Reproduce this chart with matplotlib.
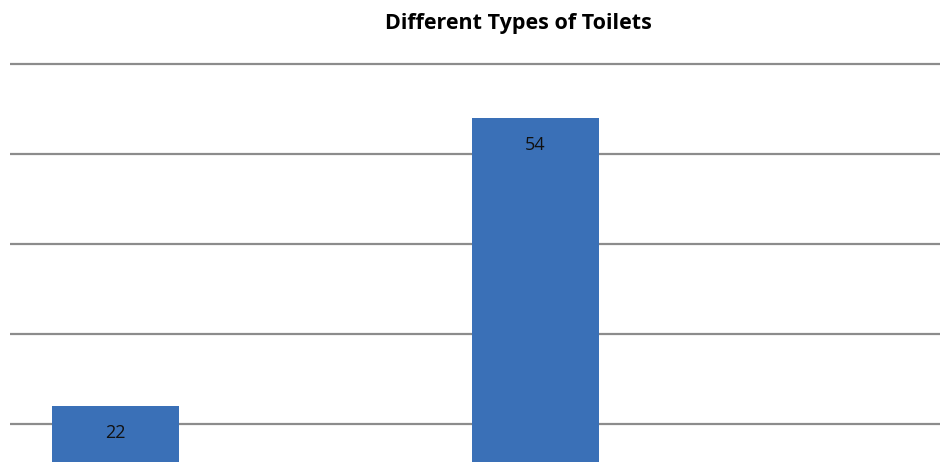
import matplotlib
matplotlib.use("Agg")
import matplotlib.pyplot as plt

# data (category names are not shown in the crop)
categories = ["Type A", "Type B"]
counts = [22, 54]
grid_values = [20, 30, 40, 50, 60]

bar_color = "#3A70B7"
grid_color = "#8C8C8C"

fig = plt.figure(figsize=(9.4, 4.62), dpi=100)
ax = fig.add_axes([10 / 940, 0, 930 / 940, 1])

x = list(range(len(categories)))
bars = ax.bar(x, counts, width=0.302, color=bar_color, zorder=3, bottom=0)

for g in grid_values:
    ax.axhline(g, color=grid_color, lw=1.6, zorder=1)

for rect, val in zip(bars, counts):
    ax.text(rect.get_x() + rect.get_width() / 2, val - 3.0, str(val),
            ha="center", va="center", fontsize=13, color="#111111",
            family="Open Sans", zorder=4)

ax.set_xlim(-0.251, 1.963)
ax.set_ylim(15.78, 67.11)
ax.axis("off")

fig.text(518 / 940, 1 - 23 / 462, "Different Types of Toilets",
         ha="center", va="center", fontsize=15.5, fontweight="bold",
         family="Open Sans", color="black")

fig.savefig("out.png", dpi=100)
